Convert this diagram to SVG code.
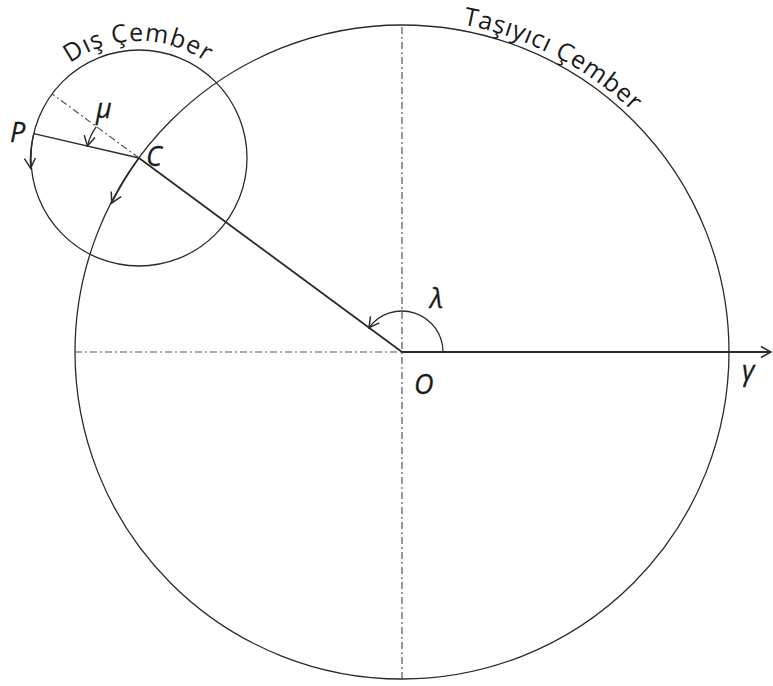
<svg xmlns="http://www.w3.org/2000/svg" xmlns:xlink="http://www.w3.org/1999/xlink" width="773" height="686" viewBox="0 0 773 686">
<style>
.ln{fill:none;stroke:#2a2a2a;stroke-width:1.3}
.th{fill:none;stroke:#2a2a2a;stroke-width:1.8}
.dd{fill:none;stroke:#555;stroke-width:1.2;stroke-dasharray:7 3 2 3}
.lbl{font-family:"Open Sans","DejaVu Sans",sans-serif;font-style:italic;font-size:27px;fill:#1a1a1a;stroke:#1a1a1a;stroke-width:0.3}
.cv{font-family:"Open Sans","DejaVu Sans",sans-serif;font-size:25px;fill:#1a1a1a}
</style>
<defs>
<marker id="ah" markerWidth="14" markerHeight="14" refX="11" refY="5.5" orient="auto" markerUnits="userSpaceOnUse" overflow="visible">
<path d="M1,0 L11,5.5 L1,11" fill="none" stroke="#2a2a2a" stroke-width="1.5"/>
</marker>
<path id="tpS" d="M70.2,63.3 A117,117 0 0 1 228.6,82.8"/>
<path id="tpB" d="M462.7,24.6 A333,333 0 0 1 657.1,138"/>
</defs>
<rect width="773" height="686" fill="#fff"/>
<g id="axes">
<line class="dd" x1="402" y1="27" x2="402" y2="680"/>
<line class="dd" x1="75" y1="352" x2="402" y2="352"/>
</g>
<g id="carrier">
<circle class="ln" cx="402" cy="352" r="327"/>
<text class="cv"><textPath xlink:href="#tpB" letter-spacing="0.8">Taşıyıcı Çember</textPath></text>
</g>
<g id="outer">
<circle class="ln" cx="139" cy="158" r="108"/>
<text class="cv"><textPath xlink:href="#tpS" letter-spacing="1">Dış Çember</textPath></text>
</g>
<g id="connectors">
<line class="th" x1="402" y1="352" x2="771" y2="352" marker-end="url(#ah)"/>
<line class="th" x1="402" y1="352" x2="139" y2="158"/>
<line class="dd" x1="139" y1="158" x2="52.1" y2="93.9"/>
<line class="ln" x1="139" y1="158" x2="33.8" y2="133.7"/>
<path class="ln" d="M443,352 A41,41 0 0 0 369,327.7" marker-end="url(#ah)"/>
<path class="ln" d="M96.3,126.6 A53,53 0 0 0 87.4,146.1" marker-end="url(#ah)"/>
<path class="ln" d="M33.8,133.7 A108,108 0 0 0 30.6,168.3" marker-end="url(#ah)"/>
<path class="ln" d="M139,158 A327,327 0 0 0 111.7,203" marker-end="url(#ah)"/>
</g>
<g id="labels">
<text class="lbl" x="414" y="394">O</text>
<text class="lbl" x="430" y="308">λ</text>
<text class="lbl" x="742" y="380">γ</text>
<text class="lbl" x="10" y="142">P</text>
<text class="lbl" x="96" y="118">μ</text>
<text class="lbl" x="146" y="166">C</text>
</g>
</svg>
